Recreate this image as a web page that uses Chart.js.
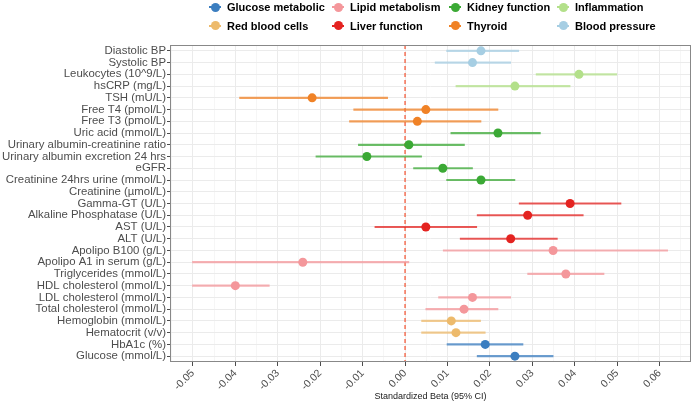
<!DOCTYPE html>
<html>
<head>
<meta charset="utf-8">
<script src="https://cdn.jsdelivr.net/npm/chart.js"></script>
<style>
  body { margin: 0; background: #fff; font-family: "Liberation Sans", Arial, sans-serif; }
  #wrap { position: relative; width: 700px; height: 405px; }
  canvas { display: block; }
  #legenda { position: absolute; left: 208px; top: -2px; display: grid;
    grid-template-columns: 123px 117px 108px 120px; grid-auto-rows: 18.5px; }
  .item { display: flex; align-items: center; font-weight: bold; font-size: 11px; color: #000; white-space: nowrap; }
  .chave { position: relative; width: 14px; height: 12px; margin-right: 5px; }
  .chave .linha { position: absolute; left: 1px; right: 1px; top: 5px; height: 2px; }
  .chave .ponto { position: absolute; left: 2.5px; top: 1.5px; width: 9px; height: 9px; border-radius: 50%; }
</style>
</head>
<body>
<div id="wrap">
  <canvas id="grafico" width="700" height="405"></canvas>
  <div id="legenda"></div>
</div>
<script>
// linhas do forest plot (de cima para baixo)
const marcadores = [
  "Diastolic BP", "Systolic BP", "Leukocytes (10^9/L)", "hsCRP (mg/L)", "TSH (mU/L)",
  "Free T4 (pmol/L)", "Free T3 (pmol/L)", "Uric acid (mmol/L)", "Urinary albumin-creatinine ratio",
  "Urinary albumin excretion 24 hrs", "eGFR", "Creatinine 24hrs urine (mmol/L)", "Creatinine (µmol/L)",
  "Gamma-GT (U/L)", "Alkaline Phosphatase (U/L)", "AST (U/L)", "ALT (U/L)", "Apolipo B100 (g/L)",
  "Apolipo A1 in serum (g/L)", "Triglycerides (mmol/L)", "HDL cholesterol (mmol/L)",
  "LDL cholesterol (mmol/L)", "Total cholesterol (mmol/L)", "Hemoglobin (mmol/L)",
  "Hematocrit (v/v)", "HbA1c (%)", "Glucose (mmol/L)"
];
const grupos = [
  "Blood pressure", "Blood pressure", "Inflammation", "Inflammation", "Thyroid",
  "Thyroid", "Thyroid", "Kidney function", "Kidney function",
  "Kidney function", "Kidney function", "Kidney function", "Kidney function",
  "Liver function", "Liver function", "Liver function", "Liver function", "Lipid metabolism",
  "Lipid metabolism", "Lipid metabolism", "Lipid metabolism",
  "Lipid metabolism", "Lipid metabolism", "Red blood cells",
  "Red blood cells", "Glucose metabolic", "Glucose metabolic"
];
const beta = [
  0.0179, 0.0159, 0.0410, 0.0259, -0.0219,
  0.0049, 0.0029, 0.0219, 0.0009,
  -0.0090, 0.0089, 0.0179, null,
  0.0389, 0.0289, 0.0049, 0.0249, 0.0349,
  -0.0241, 0.0379, -0.0400,
  0.0159, 0.0139, 0.0109,
  0.0120, 0.0189, 0.0259
];
const icInferior = [
  0.0098, 0.0071, 0.0309, 0.0120, -0.0390,
  -0.0121, -0.0131, 0.0108, -0.0110,
  -0.0210, 0.0020, 0.0098, null,
  0.0269, 0.0170, -0.0071, 0.0130, 0.0090,
  -0.0501, 0.0289, -0.0501,
  0.0079, 0.0049, 0.0039,
  0.0039, 0.0099, 0.0170
];
const icSuperior = [
  0.0268, 0.0249, 0.0499, 0.0389, -0.0041,
  0.0219, 0.0179, 0.0319, 0.0140,
  0.0039, 0.0159, 0.0259, null,
  0.0509, 0.0420, 0.0169, 0.0359, 0.0619,
  0.0009, 0.0469, -0.0320,
  0.0249, 0.0219, 0.0178,
  0.0189, 0.0278, 0.0349
];
const ordemLegenda = [
  "Glucose metabolic", "Lipid metabolism", "Kidney function", "Inflammation",
  "Red blood cells", "Liver function", "Thyroid", "Blood pressure"
];

const coresGrupo = {
  "Glucose metabolic": "#3b7ec0",
  "Lipid metabolism": "#f4979b",
  "Kidney function": "#3ba935",
  "Inflammation": "#b3e08a",
  "Red blood cells": "#edba6b",
  "Liver function": "#e42320",
  "Thyroid": "#f08226",
  "Blood pressure": "#a6cee3"
};

function comAlpha(hex, a) {
  const n = parseInt(hex.slice(1), 16);
  return `rgba(${(n >> 16) & 255},${(n >> 8) & 255},${n & 255},${a})`;
}

function ehMaior(v) {
  return Math.abs(Math.round(v * 100) - v * 100) < 1e-6;
}

// legenda em HTML (colunas alinhadas como no ggplot)
const legenda = document.getElementById("legenda");
ordemLegenda.forEach(g => {
  const item = document.createElement("div");
  item.className = "item";
  item.innerHTML = `<span class="chave"><span class="linha" style="background:${coresGrupo[g]}"></span>` +
    `<span class="ponto" style="background:${coresGrupo[g]}"></span></span>${g}`;
  legenda.appendChild(item);
});

const decoracao = {
  id: "decoracao",
  beforeDatasetsDraw(chart) {
    const { ctx, chartArea, scales } = chart;
    const x0 = scales.x.getPixelForValue(0);
    ctx.save();
    ctx.strokeStyle = "#f5502e";
    ctx.lineWidth = 1.2;
    ctx.setLineDash([4, 3]);
    ctx.beginPath();
    ctx.moveTo(x0, chartArea.top);
    ctx.lineTo(x0, chartArea.bottom);
    ctx.stroke();
    ctx.restore();
  },
  afterDraw(chart) {
    const { ctx, chartArea } = chart;
    ctx.save();
    ctx.strokeStyle = "#888888";
    ctx.lineWidth = 1;
    ctx.strokeRect(chartArea.left + 0.5, chartArea.top + 0.5,
      chartArea.right - chartArea.left - 1, chartArea.bottom - chartArea.top - 1);
    ctx.restore();
  }
};

const cores = grupos.map(g => coresGrupo[g]);

new Chart(document.getElementById("grafico"), {
  type: "bar",
  data: {
    labels: marcadores,
    datasets: [
      {
        type: "line",
        label: "Beta",
        indexAxis: "y",
        data: beta,
        showLine: false,
        pointRadius: 4.5,
        pointBorderWidth: 0,
        pointBackgroundColor: cores,
        order: 0
      },
      {
        type: "bar",
        label: "IC 95%",
        indexAxis: "y",
        data: marcadores.map((_, i) => icInferior[i] == null ? null : [icInferior[i], icSuperior[i]]),
        backgroundColor: cores.map(c => comAlpha(c, 0.75)),
        barThickness: 1.5,
        order: 1
      }
    ]
  },
  options: {
    indexAxis: "y",
    responsive: false,
    animation: false,
    layout: { padding: { top: 45, right: 9, left: 0, bottom: 0 } },
    plugins: { legend: { display: false }, tooltip: { enabled: false } },
    scales: {
      x: {
        type: "linear",
        min: -0.0554,
        max: 0.0674,
        afterFit: s => { s.height = 43; },
        border: { display: false },
        grid: {
          color: c => (c.tick && ehMaior(c.tick.value)) ? "#ebebeb" : "#f6f6f6",
          tickColor: c => (c.tick && ehMaior(c.tick.value)) ? "#4d4d4d" : "rgba(0,0,0,0)",
          tickLength: 4
        },
        ticks: {
          stepSize: 0.005,
          includeBounds: false,
          autoSkip: false,
          minRotation: 45,
          maxRotation: 45,
          padding: 1,
          color: "#4d4d4d",
          font: { family: "Liberation Sans", size: 10.5 },
          callback: v => ehMaior(v) ? v.toFixed(2) : ""
        },
        title: {
          display: true,
          text: "Standardized Beta (95% CI)",
          color: "#1a1a1a",
          font: { family: "Liberation Sans", size: 9 },
          padding: { top: 2, bottom: 3 }
        }
      },
      y: {
        type: "category",
        offset: true,
        afterFit: s => { s.width = 170; },
        border: { display: false },
        grid: { color: "#ebebeb", offset: false, tickColor: "#4d4d4d", tickLength: 3 },
        ticks: {
          autoSkip: false,
          padding: 1,
          color: "#4d4d4d",
          font: { family: "Liberation Sans", size: 11.4 }
        }
      }
    }
  },
  plugins: [decoracao]
});
</script>
</body>
</html>
